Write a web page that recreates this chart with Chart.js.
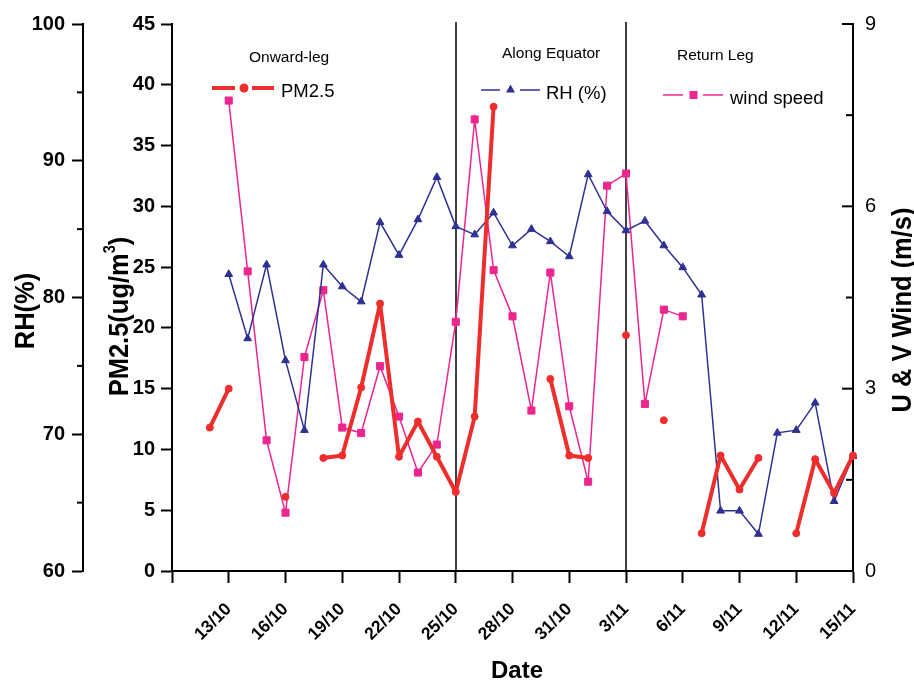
<!DOCTYPE html>
<html>
<head>
<meta charset="utf-8">
<title>PM2.5, RH and wind speed along the cruise</title>
<script src="https://cdn.jsdelivr.net/npm/chart.js@4.4.1/dist/chart.umd.min.js"></script>
<style>
    html, body { margin: 0; padding: 0; background: #fff; }
    #wrap { width: 914px; height: 680px; }
</style>
</head>
<body>
<div id="wrap"><canvas id="chart" width="914" height="680"></canvas></div>
<script>
// one category per day of the cruise
const dates = [
    "10/10", "11/10", "12/10", "13/10", "14/10", "15/10", "16/10", "17/10", "18/10", "19/10",
    "20/10", "21/10", "22/10", "23/10", "24/10", "25/10", "26/10", "27/10", "28/10", "29/10",
    "30/10", "31/10", "1/11", "2/11", "3/11", "4/11", "5/11", "6/11", "7/11", "8/11",
    "9/11", "10/11", "11/11", "12/11", "13/11", "14/11", "15/11",
]

// PM2.5 (ug/m3), null = no sample that day
const pm25 = [
    null, null, 11.8, 15.0, null, null, 6.1, null, 9.3, 9.5,
    15.1, 22.0, 9.4, 12.3, 9.4, 6.5, 12.7, 38.2, null, null,
    15.8, 9.5, 9.3, null, 19.4, null, 12.4, null, 3.1, 9.5,
    6.7, 9.3, null, 3.1, 9.2, 6.4, 9.5,
]

// relative humidity (%)
const rh = [
    null, null, null, 81.7, 77.0, 82.4, 75.4, 70.3, 82.4, 80.8,
    79.7, 85.5, 83.1, 85.7, 88.8, 85.2, 84.6, 86.2, 83.8, 85.0,
    84.1, 83.0, 89.0, 86.3, 84.9, 85.6, 83.8, 82.2, 80.2, 64.4,
    64.4, 62.7, 70.1, 70.3, 72.3, 65.1, 68.4,
]

// U & V wind speed (m/s)
const windSpeed = [
    null, null, null, 7.74, 4.93, 2.15, 0.96, 3.52, 4.62, 2.36,
    2.27, 3.37, 2.54, 1.62, 2.08, 4.10, 7.43, 4.95, 4.19, 2.64,
    4.91, 2.71, 1.47, 6.34, 6.54, 2.75, 4.30, 4.19, null, null,
    null, null, null, null, null, null, null,
]

// cruise legs and the days that split them
const legNames = ["Onward-leg", "Along Equator", "Return Leg"]
const legBreaks = ["25/10", "3/11"]

const rhMinorTicks = [65, 75, 85, 95]
const windMajorTicks = [0, 3, 6, 9]
const windMinorTicks = [1.5, 4.5, 7.5]

const FONT = "'Liberation Sans', Arial, Helvetica, sans-serif"
const colors = {
    pm: "#ee2d2d",
    rh: "#2e3192",
    wind: "#ec268f",
}

Chart.defaults.font.family = FONT
Chart.defaults.color = "#000"

function tick(ctx, x1, x2, y) {
    ctx.beginPath()
    ctx.moveTo(x1, y)
    ctx.lineTo(x2, y)
    ctx.stroke()
}

// vertical title, reads bottom to top, squeezed a bit like the original
function vTitle(ctx, text, cx, cy, size) {
    ctx.save()
    ctx.translate(cx, cy)
    ctx.rotate(-Math.PI / 2)
    ctx.scale(0.91, 1)
    ctx.font = `bold ${size}px ${FONT}`
    ctx.textAlign = "center"
    ctx.textBaseline = "alphabetic"
    ctx.fillText(text, 0, size * 0.358)
    ctx.restore()
}

const decorations = {
    id: "decorations",
    beforeDatasetsDraw(chart) {
        const { ctx, chartArea, scales } = chart
        ctx.save()
        ctx.strokeStyle = "#000"
        ctx.lineWidth = 1.5
        legBreaks.forEach((d) => {
            const x = Math.round(scales.x.getPixelForValue(dates.indexOf(d)))
            ctx.beginPath()
            ctx.moveTo(x, chartArea.top - 2)
            ctx.lineTo(x, chartArea.bottom)
            ctx.stroke()
        })
        ctx.restore()
    },
    afterDraw(chart) {
        const { ctx, scales } = chart
        ctx.save()
        ctx.strokeStyle = "#000"
        ctx.lineWidth = 2

        // minor ticks on the RH axis
        const rhX = scales.yRh.right
        rhMinorTicks.forEach((v) => tick(ctx, rhX - 6, rhX, scales.yRh.getPixelForValue(v)))

        // wind axis ticks point into the plot
        const wX = scales.yWind.left
        windMajorTicks.forEach((v) => tick(ctx, wX - 11, wX, scales.yWind.getPixelForValue(v)))
        windMinorTicks.forEach((v) => tick(ctx, wX - 7, wX, scales.yWind.getPixelForValue(v)))

        // axis titles
        ctx.fillStyle = "#000"
        vTitle(ctx, "RH(%)", 23.5, 311, 28)
        vTitle(ctx, "U & V Wind (m/s)", 901, 310, 28)

        // PM2.5(ug/m3) with a raised 3
        ctx.save()
        ctx.translate(117.5, 316.5)
        ctx.rotate(-Math.PI / 2)
        ctx.scale(0.91, 1)
        ctx.textBaseline = "alphabetic"
        ctx.textAlign = "left"
        ctx.font = `bold 28px ${FONT}`
        const partA = "PM2.5(ug/m"
        const partB = ")"
        const wa = ctx.measureText(partA).width
        const wb = ctx.measureText(partB).width
        ctx.font = `bold 16px ${FONT}`
        const ws = ctx.measureText("3").width
        let x0 = -(wa + ws + wb) / 2
        const base = 28 * 0.358
        ctx.font = `bold 28px ${FONT}`
        ctx.fillText(partA, x0, base)
        ctx.font = `bold 16px ${FONT}`
        ctx.fillText("3", x0 + wa, base - 13)
        ctx.font = `bold 28px ${FONT}`
        ctx.fillText(partB, x0 + wa + ws, base)
        ctx.restore()

        ctx.font = `bold 24px ${FONT}`
        ctx.textAlign = "center"
        ctx.textBaseline = "alphabetic"
        ctx.fillText("Date", 517, 678)

        // leg names
        ctx.font = `15.5px ${FONT}`
        ctx.textAlign = "left"
        ctx.fillText(legNames[0], 249, 62)
        ctx.fillText(legNames[1], 502, 57.5)
        ctx.fillText(legNames[2], 677, 59.5)

        // legend samples, placed by hand like the original
        ctx.font = `18.5px ${FONT}`
        // PM2.5
        ctx.strokeStyle = colors.pm
        ctx.fillStyle = colors.pm
        ctx.lineWidth = 4
        tick(ctx, 212, 235, 88)
        tick(ctx, 252, 274, 88)
        ctx.beginPath()
        ctx.arc(244, 88, 4.5, 0, Math.PI * 2)
        ctx.fill()
        ctx.fillStyle = "#000"
        ctx.fillText("PM2.5", 281, 96.5)
        // RH
        ctx.strokeStyle = colors.rh
        ctx.fillStyle = colors.rh
        ctx.lineWidth = 1.5
        tick(ctx, 481, 500, 90)
        tick(ctx, 520, 540, 90)
        ctx.beginPath()
        ctx.moveTo(510.5, 84.5)
        ctx.lineTo(515, 92.5)
        ctx.lineTo(506, 92.5)
        ctx.closePath()
        ctx.fill()
        ctx.fillStyle = "#000"
        ctx.fillText("RH (%)", 546, 99)
        // wind speed
        ctx.strokeStyle = colors.wind
        ctx.fillStyle = colors.wind
        tick(ctx, 663, 683, 95)
        tick(ctx, 703, 723, 95)
        ctx.fillRect(689.5, 91, 8, 8)
        ctx.fillStyle = "#000"
        ctx.fillText("wind speed", 730, 104)

        ctx.restore()
    },
}

const axisFont = { family: FONT, size: 20, weight: "bold" }

new Chart(document.getElementById("chart"), {
    type: "line",
    data: {
        labels: dates,
        datasets: [
            {
                label: "PM2.5",
                data: pm25,
                yAxisID: "yPm",
                borderColor: colors.pm,
                backgroundColor: colors.pm,
                pointBorderColor: colors.pm,
                borderWidth: 4,
                borderJoinStyle: "round",
                borderCapStyle: "round",
                pointStyle: "circle",
                pointRadius: 3.5,
                pointBorderWidth: 1,
                spanGaps: false,
                tension: 0,
            },
            {
                label: "RH (%)",
                data: rh,
                yAxisID: "yRh",
                borderColor: colors.rh,
                backgroundColor: colors.rh,
                pointBorderColor: colors.rh,
                borderWidth: 1.5,
                pointStyle: "triangle",
                pointRadius: 4.5,
                pointBorderWidth: 1,
                tension: 0,
            },
            {
                label: "wind speed",
                data: windSpeed,
                yAxisID: "yWind",
                borderColor: colors.wind,
                backgroundColor: colors.wind,
                pointBorderColor: colors.wind,
                borderWidth: 1.5,
                pointStyle: "rect",
                pointRadius: 5,
                pointBorderWidth: 1,
                tension: 0,
            },
        ],
    },
    options: {
        responsive: false,
        animation: false,
        devicePixelRatio: 1,
        layout: { padding: { top: 22.5, left: 0, right: 0, bottom: 0 } },
        plugins: {
            legend: { display: false },
            tooltip: { enabled: false },
        },
        scales: {
            x: {
                type: "category",
                offset: false,
                border: { display: true, color: "#000", width: 2 },
                grid: {
                    drawOnChartArea: false,
                    drawTicks: true,
                    tickLength: 12,
                    tickWidth: 2,
                    tickColor: (c) => (c.index % 3 === 0 ? "#000" : "rgba(0,0,0,0)"),
                },
                ticks: {
                    autoSkip: false,
                    minRotation: 45,
                    maxRotation: 45,
                    padding: 16,
                    color: "#000",
                    font: { family: FONT, size: 17.5, weight: "bold" },
                    callback: (v, i) => (i % 3 === 0 && i > 0 ? dates[i] : ""),
                },
                afterFit: (s) => { s.height = 109 },
            },
            yPm: {
                position: "left",
                weight: 0,
                min: 0,
                max: 45,
                border: { display: true, color: "#000", width: 2 },
                grid: { drawOnChartArea: false, tickLength: 11, tickWidth: 2, tickColor: "#000" },
                ticks: { stepSize: 5, padding: 6, color: "#000", font: axisFont },
                afterFit: (s) => { s.width = 89 },
            },
            yRh: {
                position: "left",
                weight: 1,
                min: 60,
                max: 100,
                border: { display: true, color: "#000", width: 2 },
                grid: { drawOnChartArea: false, tickLength: 11, tickWidth: 2, tickColor: "#000" },
                ticks: { stepSize: 10, padding: 7, color: "#000", font: axisFont },
                afterFit: (s) => { s.width = 83 },
            },
            yWind: {
                position: "right",
                min: 0,
                max: 9,
                border: { display: true, color: "#000", width: 2 },
                grid: { drawOnChartArea: false, drawTicks: false },
                ticks: { stepSize: 3, padding: 12, color: "#000", font: { family: FONT, size: 20 } },
                afterFit: (s) => { s.width = 61 },
            },
        },
    },
    plugins: [decorations],
})
</script>
</body>
</html>
